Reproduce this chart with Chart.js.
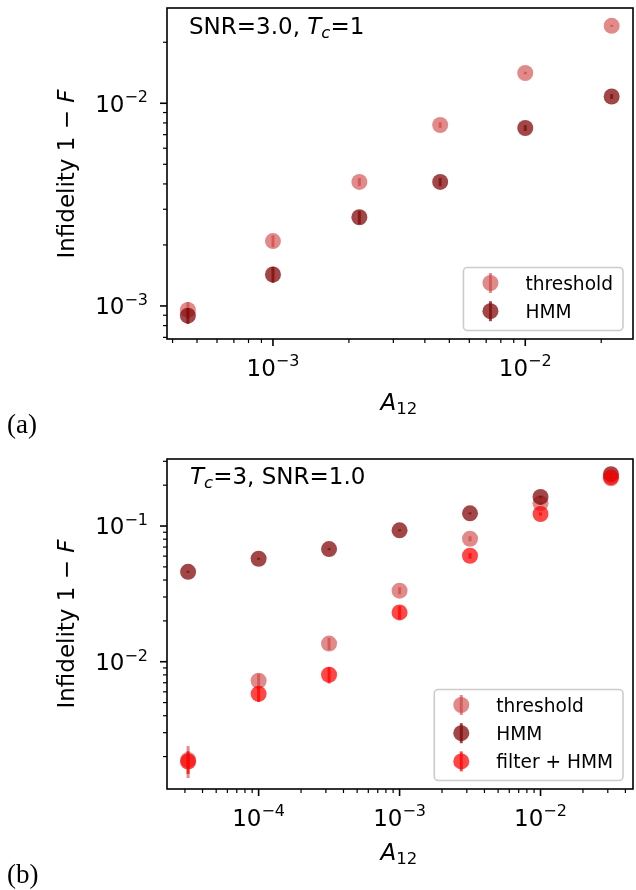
<!DOCTYPE html>
<html>
<head>
<meta charset="utf-8">
<script src="https://cdn.jsdelivr.net/npm/chart.js@4.4.0/dist/chart.umd.min.js"></script>
<style>
body { margin: 0; background: #fff; }
#page { position: relative; width: 636px; height: 890px; font-family: "DejaVu Sans"; color: #000; }
.panel { position: absolute; left: 0; width: 636px; height: 445px; }
.lbl { position: absolute; white-space: nowrap; line-height: normal; }
.ylab { font-size: 23px; transform: translate(-50%, -50%) rotate(-90deg); }
.xlab { font-size: 23px; transform: translateX(-50%); }
.note { font-size: 23px; }
.tag { font-family: "Liberation Serif"; font-size: 27px; }
.sub { font-size: 72%; position: relative; top: 0.25em; }
</style>
</head>
<body>
<div id="page">
  <div class="panel" style="top:0"><canvas id="c1" width="636" height="445"></canvas></div>
  <div class="panel" style="top:445px"><canvas id="c2" width="636" height="445"></canvas></div>

  <div class="lbl ylab" style="left:66px;top:174px">Infidelity 1 − <i>F</i></div>
  <div class="lbl ylab" style="left:66px;top:624px">Infidelity 1 − <i>F</i></div>
  <div class="lbl xlab" style="left:399px;top:389px"><i>A</i><span class="sub">12</span></div>
  <div class="lbl xlab" style="left:399px;top:839px"><i>A</i><span class="sub">12</span></div>
  <div class="lbl note" style="left:189px;top:13px">SNR=3.0, <i>T</i><span class="sub"><i>c</i></span>=1</div>
  <div class="lbl note" style="left:190px;top:463px"><i>T</i><span class="sub"><i>c</i></span>=3, SNR=1.0</div>
  <div class="lbl tag" style="left:7px;top:409px">(a)</div>
  <div class="lbl tag" style="left:7px;top:859px">(b)</div>
</div>

<script>
// (a) SNR=3.0, Tc=1
var xTop = [4.6e-4, 1.0e-3, 2.2e-3, 4.6e-3, 1.0e-2, 2.2e-2];
var thrTop = [9.56e-4, 2.09e-3, 4.09e-3, 7.81e-3, 1.41e-2, 2.41e-2];
var thrTopErr = [9e-5, 1.4e-4, 1.9e-4, 2.5e-4, 2e-4, 2.5e-4];
var hmmTop = [8.96e-4, 1.43e-3, 2.74e-3, 4.09e-3, 7.55e-3, 1.08e-2];
var hmmTopErr = [8e-5, 1.3e-4, 2.1e-4, 1.9e-4, 2.5e-4, 3e-4];

// (b) Tc=3, SNR=1.0
var xBot = [3.16e-5, 1.0e-4, 3.16e-4, 1.0e-3, 3.16e-3, 1.0e-2, 3.16e-2];
var thrBot = [0.00189, 0.00724, 0.0136, 0.0334, 0.0806, 0.147, 0.225];
var thrBotErr = [5e-4, 9e-4, 1.4e-3, 2e-3, 3.5e-3, 3.5e-3, 3.5e-3];
var hmmBot = [0.046, 0.0574, 0.0676, 0.093, 0.124, 0.164, 0.241];
var hmmBotErr = [8e-4, 1e-3, 1.2e-3, 1.5e-3, 2e-3, 2.5e-3, 3e-3];
var filtBot = [0.00184, 0.0058, 0.00802, 0.0231, 0.0604, 0.1226, 0.229];
var filtBotErr = [3.5e-4, 7.5e-4, 1.1e-3, 2.6e-3, 3e-3, 3.5e-3, 3.5e-3];

// axis limits (log10)
var xTopLim = [-3.42, -1.573];
var yTopLim = [-3.163, -1.530];
var xBotLim = [-4.65, -1.344];
var yBotLim = [-2.938, -0.506];

var thrColor = 'rgba(205,60,60,0.6)';
var hmmColor = 'rgba(130,10,10,0.75)';
var filtColor = 'rgba(255,0,0,0.72)';

function isDecade(v) {
    var l = Math.log10(v);
    return Math.abs(l - Math.round(l)) < 1e-6;
}

function logTicks(scale) {
    var t = [];
    var e0 = Math.floor(Math.log10(scale.min)), e1 = Math.ceil(Math.log10(scale.max));
    for (var e = e0; e <= e1; e++) {
        for (var m = 1; m < 10; m++) {
            var v = parseFloat((m * Math.pow(10, e)).toPrecision(4));
            if (v >= scale.min && v <= scale.max) t.push({ value: v });
        }
    }
    scale.ticks = t;
}

function noPad(scale) {
    scale.paddingTop = 0;
    scale.paddingBottom = 0;
    scale.paddingLeft = 0;
    scale.paddingRight = 0;
}

function pts(xs, ys) {
    return xs.map(function(x, i) { return { x: x, y: ys[i] }; });
}

function makeSet(label, xs, ys, err, color, order) {
    return {
        label: label,
        data: pts(xs, ys),
        err: err,
        order: order,
        backgroundColor: color,
        borderWidth: 0,
        pointRadius: 8,
        pointHoverRadius: 8,
        pointBorderWidth: 0
    };
}

// error bars, drawn right after each dataset
var errBars = {
    id: 'errBars',
    afterDatasetDraw: function(chart, args) {
        var ds = chart.data.datasets[args.index];
        if (!ds.err) return;
        var ctx = chart.ctx, ys = chart.scales.y, a = chart.chartArea;
        ctx.save();
        ctx.beginPath();
        ctx.rect(a.left, a.top, a.right - a.left, a.bottom - a.top);
        ctx.clip();
        ctx.strokeStyle = ds.backgroundColor;
        ctx.lineWidth = 3;
        args.meta.data.forEach(function(pt, i) {
            var v = ds.data[i].y, e = ds.err[i];
            ctx.beginPath();
            ctx.moveTo(pt.x, ys.getPixelForValue(v + e));
            ctx.lineTo(pt.x, ys.getPixelForValue(v - e));
            ctx.stroke();
        });
        ctx.restore();
    }
};

// "10" with a raised exponent, like matplotlib's log labels
function drawPow(ctx, v, x, y, align) {
    var e = '−' + String(Math.abs(Math.round(Math.log10(v))));
    ctx.font = '23px "DejaVu Sans"';
    var w1 = ctx.measureText('10').width;
    ctx.font = '16px "DejaVu Sans"';
    var w2 = ctx.measureText(e).width;
    var x0 = align === 'right' ? x - w1 - w2 : x - (w1 + w2) / 2;
    ctx.font = '23px "DejaVu Sans"';
    ctx.fillText('10', x0, y);
    ctx.font = '16px "DejaVu Sans"';
    ctx.fillText(e, x0 + w1, y - 9.5);
}

// frame, major/minor tick marks and decade labels
var frame = {
    id: 'frame',
    afterDatasetsDraw: function(chart) {
        var ctx = chart.ctx, a = chart.chartArea;
        ctx.save();
        ctx.strokeStyle = '#000';
        ctx.fillStyle = '#000';
        ctx.textBaseline = 'alphabetic';
        ctx.textAlign = 'left';
        ['x', 'y'].forEach(function(id) {
            var s = chart.scales[id];
            s.ticks.forEach(function(t) {
                var major = isDecade(t.value);
                var len = major ? 7 : 4;
                var p = s.getPixelForValue(t.value);
                ctx.lineWidth = major ? 1.6 : 1.2;
                ctx.beginPath();
                if (id === 'x') { ctx.moveTo(p, a.bottom); ctx.lineTo(p, a.bottom + len); }
                else { ctx.moveTo(a.left, p); ctx.lineTo(a.left - len, p); }
                ctx.stroke();
                if (major) {
                    if (id === 'x') drawPow(ctx, t.value, p, a.bottom + 36.5, 'center');
                    else drawPow(ctx, t.value, a.left - 19, p + 8.4, 'right');
                }
            });
        });
        ctx.lineWidth = 1.6;
        ctx.strokeRect(a.left, a.top, a.right - a.left, a.bottom - a.top);
        ctx.restore();
    }
};

// matplotlib-like legend in the lower right corner
var boxLegend = {
    id: 'boxLegend',
    afterDatasetsDraw: function(chart) {
        var ctx = chart.ctx, a = chart.chartArea;
        var sets = chart.data.datasets;
        ctx.save();
        ctx.font = '18.6px "DejaVu Sans"';
        var tw = 0;
        sets.forEach(function(d) { tw = Math.max(tw, ctx.measureText(d.label).width); });
        var w = 62 + tw + 10, h = sets.length * 28 + 7;
        var x0 = a.right - 10 - w, y0 = a.bottom - 8.5 - h;
        ctx.beginPath();
        ctx.roundRect(x0, y0, w, h, 4);
        ctx.fillStyle = 'rgba(255,255,255,0.8)';
        ctx.fill();
        ctx.strokeStyle = '#cccccc';
        ctx.lineWidth = 1.6;
        ctx.stroke();
        sets.forEach(function(d, i) {
            var cy = y0 + 15.5 + i * 28.2, cx = x0 + 27;
            ctx.fillStyle = d.backgroundColor;
            ctx.beginPath();
            ctx.arc(cx, cy, 8, 0, Math.PI * 2);
            ctx.fill();
            ctx.strokeStyle = d.backgroundColor;
            ctx.lineWidth = 3;
            ctx.beginPath();
            ctx.moveTo(cx, cy - 10);
            ctx.lineTo(cx, cy + 10);
            ctx.stroke();
            ctx.fillStyle = '#000';
            ctx.textBaseline = 'alphabetic';
            ctx.fillText(d.label, x0 + 62, cy + 7);
        });
        ctx.restore();
    }
};

function makeChart(id, datasets, xLim, yLim, padTop, xHeight) {
    new Chart(document.getElementById(id), {
        type: 'scatter',
        data: { datasets: datasets },
        options: {
            responsive: false,
            animation: false,
            layout: { autoPadding: false, padding: { top: padTop, right: 3, left: 0, bottom: 0 } },
            plugins: { legend: { display: false }, tooltip: { enabled: false } },
            scales: {
                x: {
                    type: 'logarithmic',
                    min: Math.pow(10, xLim[0]),
                    max: Math.pow(10, xLim[1]),
                    grid: { display: false, drawTicks: false },
                    border: { display: false },
                    ticks: { display: false, autoSkip: false },
                    afterBuildTicks: logTicks,
                    afterFit: function(s) { s.height = xHeight; noPad(s); }
                },
                y: {
                    type: 'logarithmic',
                    min: Math.pow(10, yLim[0]),
                    max: Math.pow(10, yLim[1]),
                    grid: { display: false, drawTicks: false },
                    border: { display: false },
                    ticks: { display: false, autoSkip: false },
                    afterBuildTicks: logTicks,
                    afterFit: function(s) { s.width = 167; noPad(s); }
                }
            }
        },
        plugins: [errBars, frame, boxLegend]
    });
}

makeChart('c1', [
    makeSet('threshold', xTop, thrTop, thrTopErr, thrColor, 3),
    makeSet('HMM', xTop, hmmTop, hmmTopErr, hmmColor, 2)
], xTopLim, yTopLim, 8, 106);

makeChart('c2', [
    makeSet('threshold', xBot, thrBot, thrBotErr, thrColor, 3),
    makeSet('HMM', xBot, hmmBot, hmmBotErr, hmmColor, 2),
    makeSet('filter + HMM', xBot, filtBot, filtBotErr, filtColor, 1)
], xBotLim, yBotLim, 14, 101);
</script>
</body>
</html>
